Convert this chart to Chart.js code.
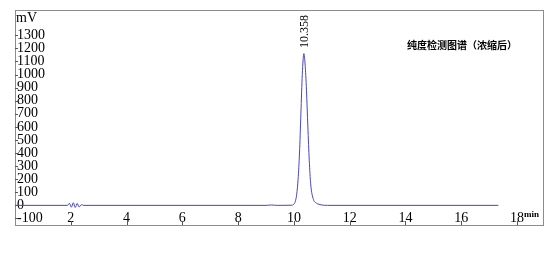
<!DOCTYPE html>
<html>
<head>
<meta charset="utf-8">
<script src="https://cdn.jsdelivr.net/npm/chart.js@4/dist/chart.umd.min.js"></script>
<style>
  html, body { margin: 0; padding: 0; background: #fff; }
  #wrap { width: 551px; height: 253px; }
</style>
</head>
<body>
<div id="wrap"><canvas id="myChart" width="551" height="253"></canvas></div>
<script>
// chromatogram (time in min, signal in mV)
const times = [0, 1.88, 1.95, 2.02, 2.09, 2.16, 2.23, 2.3, 2.38, 2.47, 9.0, 9.2, 9.4, 9.9, 10.0, 10.05, 10.1, 10.15, 10.2, 10.25, 10.3, 10.358, 10.4, 10.45, 10.5, 10.55, 10.6, 10.7, 10.8, 10.9, 11.0, 11.2, 17.33];
const signal = [0, 0, 16, -14, 20, -16, 15, -12, 5, 0, 0, 3, 0, 1, 10, 30, 85, 200, 400, 700, 1000, 1160, 1080, 880, 600, 345, 165, 45, 18, 8, 3, 0, 0];

const xTicks = [2, 4, 6, 8, 10, 12, 14, 16, 18];
const yTicks = [-100, 0, 100, 200, 300, 400, 500, 600, 700, 800, 900, 1000, 1100, 1200, 1300];

const peakTime = 10.358;
const peakHeight = 1160;
const peakLabel = "10.358";
const yUnit = "mV";
const xUnit = "min";
const chartTitle = "纯度检测图谱（浓缩后）";

const serif = '"Liberation Serif", "Times New Roman", serif';

//Frame, inner tick marks and the extra texts:
const extras = {
    id: 'extras',
    afterDraw(chart) {
        const {ctx, chartArea: a, scales: {x, y}} = chart;
        ctx.save();
        ctx.strokeStyle = '#8c8c8c';
        ctx.lineWidth = 1;
        ctx.strokeRect(Math.round(a.left) + 0.5, Math.round(a.top) + 0.5,
                       Math.round(a.right - a.left), Math.round(a.bottom - a.top));

        ctx.strokeStyle = '#555';
        ctx.beginPath();
        yTicks.forEach(v => {
            const py = Math.round(y.getPixelForValue(v)) + 0.5;
            ctx.moveTo(a.left, py);
            ctx.lineTo(a.left + 3, py);
        });
        xTicks.forEach(v => {
            const px = Math.round(x.getPixelForValue(v)) + 0.5;
            ctx.moveTo(px, a.bottom);
            ctx.lineTo(px, a.bottom - 4);
        });
        ctx.stroke();

        ctx.fillStyle = '#000';
        ctx.font = '14px ' + serif;
        ctx.textAlign = 'left';
        ctx.textBaseline = 'middle';
        ctx.fillText(yUnit, a.left + 1, a.top + 8);

        ctx.font = 'bold 9px ' + serif;
        ctx.fillText(xUnit, x.getPixelForValue(18) + 7, a.bottom - 10);

        ctx.font = '600 10px "Noto Sans CJK SC"';
        ctx.fillText(chartTitle, 407, a.top + 35);

        // peak retention time, rotated
        ctx.translate(x.getPixelForValue(peakTime) + 1, y.getPixelForValue(peakHeight) - 22);
        ctx.rotate(-Math.PI / 2);
        ctx.font = '12px ' + serif;
        ctx.textAlign = 'center';
        ctx.fillText(peakLabel, 0, 0);
        ctx.restore();
    }
};

const ctx = document.getElementById("myChart").getContext("2d");

const chart = new Chart(ctx, {
    type: 'line',
    data: {
        datasets: [{
            data: times.map((t, i) => ({x: t, y: signal[i]})),
            borderColor: '#4646c4',
            borderWidth: 1,
            pointRadius: 0,
            cubicInterpolationMode: 'monotone',
            fill: false
        }]
    },
    options: {
        responsive: false,
        animation: false,
        layout: { padding: { left: 11, top: 8, right: 8, bottom: 28 } },
        plugins: {
            legend: { display: false },
            tooltip: { enabled: false }
        },
        scales: {
            x: {
                type: 'linear',
                min: 0,
                max: 18.93,
                afterBuildTicks: s => { s.ticks = xTicks.map(v => ({value: v})); },
                grid: { display: false, drawTicks: false },
                border: { display: false },
                ticks: { mirror: true, padding: -2, autoSkip: false, callback: v => String(v),
                         color: '#000', font: { family: serif, size: 14 }, maxRotation: 0 }
            },
            y: {
                min: -150,
                max: 1490,
                afterBuildTicks: s => { s.ticks = yTicks.map(v => ({value: v})); },
                grid: { display: false, drawTicks: false },
                border: { display: false },
                ticks: { mirror: true, padding: 2, autoSkip: false, callback: v => String(v),
                         color: '#000', font: { family: serif, size: 14 } }
            }
        }
    },
    plugins: [extras]
});
</script>
</body>
</html>
